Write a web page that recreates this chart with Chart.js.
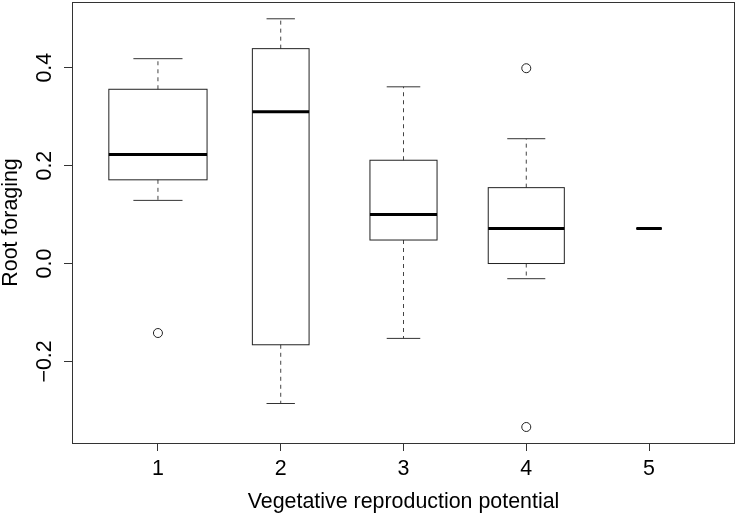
<!DOCTYPE html>
<html>
<head>
<meta charset="utf-8">
<script src="https://cdn.jsdelivr.net/npm/chart.js@4.4.0/dist/chart.umd.min.js"></script>
<style>
  html, body { margin: 0; padding: 0; background: #fff; }
  #wrap { width: 738px; height: 516px; }
</style>
</head>
<body>
<div id="wrap"><canvas id="myChart"></canvas></div>
<script>
// data
const groups = [1, 2, 3, 4, 5];
const sampleSizes = [15, 5, 7, 9, 1];
const lowerWhisker = [0.129, -0.286, -0.153, -0.031, 0.0715];
const lowerQuartile = [0.171, -0.166, 0.048, 0.0, 0.0715];
const medians = [0.2225, 0.310, 0.100, 0.0715, 0.0715];
const upperQuartile = [0.356, 0.439, 0.211, 0.155, 0.0715];
const upperWhisker = [0.4185, 0.500, 0.361, 0.255, 0.0715];
const outlierGroup = [1, 4, 4];
const outlierValue = [-0.142, 0.399, -0.334];
const yTicks = [-0.2, 0.0, 0.2, 0.4];
const xTicks = [1, 2, 3, 4, 5];

const FONT = "'Liberation Sans', Arial, Helvetica, sans-serif";
const ctx = document.getElementById("myChart");

const maxN = Math.max(...sampleSizes);
const fmt = (v) => (v < 0 ? "\u2212" : "") + Math.abs(v).toFixed(1);

//boxes, whiskers, frame and tick labels
const boxPlugin = {
  id: "boxes",
  beforeDatasetsDraw(chart) {
    const c = chart.ctx;
    const xs = chart.scales.x;
    const ys = chart.scales.y;
    const area = chart.chartArea;
    c.save();
    groups.forEach((g, i) => {
      const w = 0.8 * Math.sqrt(sampleSizes[i] / maxN);
      const xl = xs.getPixelForValue(g - w / 2);
      const xr = xs.getPixelForValue(g + w / 2);
      const xc = xs.getPixelForValue(g);
      const cl = xs.getPixelForValue(g - w / 4);
      const cr = xs.getPixelForValue(g + w / 4);
      const yq1 = ys.getPixelForValue(lowerQuartile[i]);
      const yq3 = ys.getPixelForValue(upperQuartile[i]);
      const ylo = ys.getPixelForValue(lowerWhisker[i]);
      const yhi = ys.getPixelForValue(upperWhisker[i]);
      const ymed = ys.getPixelForValue(medians[i]);

      // whiskers
      c.strokeStyle = "#444";
      c.lineWidth = 1;
      c.setLineDash([4, 4]);
      c.beginPath();
      c.moveTo(xc, yq3); c.lineTo(xc, yhi);
      c.moveTo(xc, yq1); c.lineTo(xc, ylo);
      c.stroke();
      c.setLineDash([]);
      c.strokeStyle = "#333";
      c.beginPath();
      c.moveTo(cl, yhi); c.lineTo(cr, yhi);
      c.moveTo(cl, ylo); c.lineTo(cr, ylo);
      c.stroke();

      // box
      c.strokeStyle = "#222";
      c.strokeRect(xl, yq3, xr - xl, yq1 - yq3);

      // median
      c.strokeStyle = "#000";
      c.lineWidth = 3;
      c.beginPath();
      c.moveTo(xl, ymed); c.lineTo(xr, ymed);
      c.stroke();
    });

    // frame
    c.strokeStyle = "#333";
    c.lineWidth = 1;
    c.strokeRect(area.left + 0.5, area.top + 0.5, area.right - area.left - 1, area.bottom - area.top);

    // tick labels
    c.fillStyle = "#000";
    c.font = "21.4px " + FONT;
    c.textAlign = "center";
    c.textBaseline = "alphabetic";
    yTicks.forEach((v) => {
      c.save();
      c.translate(51, ys.getPixelForValue(v));
      c.rotate(-Math.PI / 2);
      c.fillText(fmt(v), 0, 0);
      c.restore();
    });
    xTicks.forEach((v) => {
      c.fillText(String(v), xs.getPixelForValue(v), 475);
    });
    c.restore();
  },
};

const myChart = new Chart(ctx, {
  type: "scatter",
  data: {
    datasets: [
      {
        label: "outliers",
        data: outlierGroup.map((g, i) => ({ x: g, y: outlierValue[i] })),
        pointStyle: "circle",
        pointRadius: 4.5,
        pointHoverRadius: 4.5,
        backgroundColor: "rgba(255,255,255,0)",
        borderColor: "#222",
        borderWidth: 1,
      },
    ],
  },
  options: {
    responsive: true,
    maintainAspectRatio: false,
    animation: false,
    events: [],
    layout: { autoPadding: false, padding: { top: 2, right: 3, left: 0, bottom: 0 } },
    plugins: {
      legend: { display: false },
      tooltip: { enabled: false },
    },
    scales: {
      x: {
        type: "linear",
        min: 0.3,
        max: 5.7,
        afterBuildTicks: (scale) => {
          scale.ticks = xTicks.map((v) => ({ value: v }));
        },
        afterFit: (scale) => {
          scale.height = 73;
        },
        ticks: { display: false },
        grid: {
          drawOnChartArea: false,
          drawTicks: true,
          tickLength: 8,
          color: "#333",
        },
        border: { display: false },
        title: {
          display: true,
          text: "Vegetative reproduction potential",
          color: "#000",
          font: { family: FONT, size: 21.4, lineHeight: 1 },
          padding: { top: 0, bottom: 2.7 },
        },
      },
      y: {
        type: "linear",
        min: -0.3667,
        max: 0.5343,
        afterBuildTicks: (scale) => {
          scale.ticks = yTicks.map((v) => ({ value: v }));
        },
        afterFit: (scale) => {
          scale.width = 72;
        },
        ticks: { display: false },
        grid: {
          drawOnChartArea: false,
          drawTicks: true,
          tickLength: 8,
          color: "#333",
        },
        border: { display: false },
        title: {
          display: true,
          text: "Root foraging",
          color: "#000",
          font: { family: FONT, size: 21.4, lineHeight: 1 },
          padding: { top: 0.2, bottom: 0 },
        },
      },
    },
  },
  plugins: [boxPlugin],
});
</script>
</body>
</html>
